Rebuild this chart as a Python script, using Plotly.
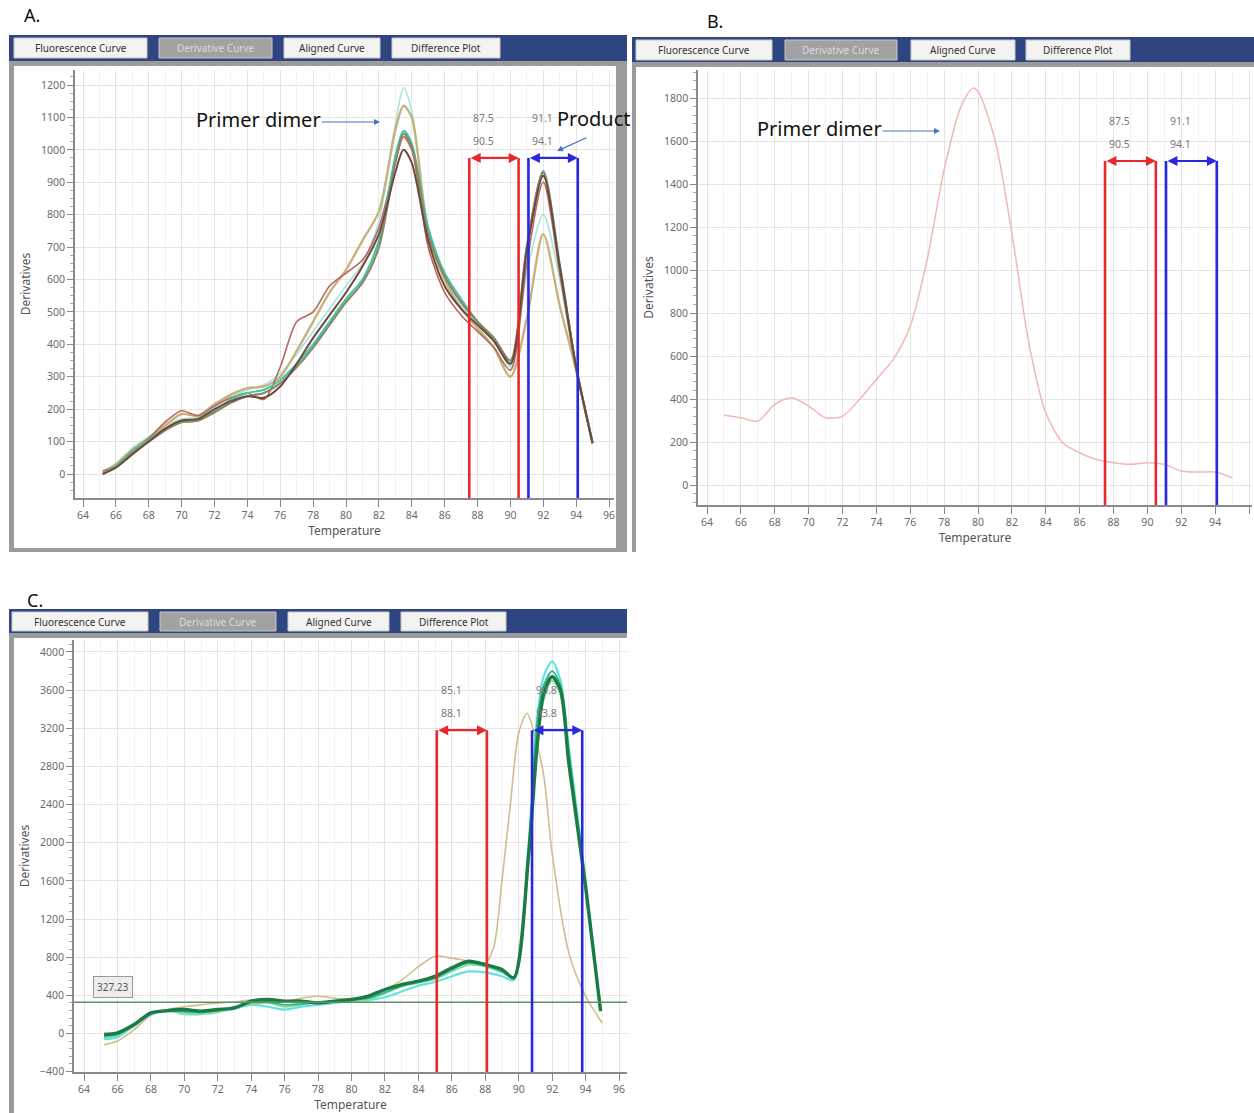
import plotly.graph_objects as go

W, H = 1254, 1113

# ---------------- DATA ----------------
# Panel A: derivative melt curves (6 wells)
temps_A = [65.2, 66, 67, 68, 69, 70, 71, 72, 73, 74, 75, 76, 77, 78, 79, 80, 81, 82,
           83, 83.5, 84, 85, 86, 87, 88, 89, 90, 91, 92, 93, 94, 95]
A_tan = [5, 30, 75, 110, 150, 185, 180, 215, 245, 265, 270, 300, 380, 470, 560, 630, 720, 810,
         1060, 1136, 1100, 740, 600, 510, 450, 390, 300, 480, 740, 520, 320, 95]
A_darkbrown = [0, 20, 60, 100, 140, 165, 170, 200, 225, 240, 235, 270, 340, 420, 490, 560, 640, 740,
               930, 1000, 960, 720, 580, 510, 460, 410, 340, 690, 920, 640, 330, 95]
A_redbrown = [10, 25, 70, 110, 160, 195, 180, 210, 235, 250, 230, 330, 470, 500, 580, 620, 660, 760,
              960, 1040, 1000, 700, 560, 490, 440, 390, 320, 650, 900, 620, 320, 100]
A_teal = [0, 25, 70, 105, 140, 160, 165, 195, 230, 250, 260, 290, 340, 400, 470, 540, 600, 720,
          980, 1059, 1020, 760, 620, 540, 470, 410, 340, 700, 935, 650, 330, 95]
A_lightcyan = [5, 30, 80, 115, 150, 170, 175, 205, 240, 260, 275, 310, 370, 440, 510, 580, 650, 780,
               1080, 1192, 1120, 760, 600, 520, 470, 420, 330, 620, 800, 600, 330, 100]
A_olive = [0, 20, 65, 100, 135, 160, 165, 190, 220, 240, 250, 280, 330, 390, 460, 530, 590, 700,
           960, 1050, 1010, 740, 610, 530, 470, 420, 350, 700, 930, 640, 330, 95]
A_ranges = [87.5, 90.5, 91.1, 94.1]

# Panel B: single derivative curve
temps_B = [65, 66, 67, 68, 69, 70, 71, 72, 73, 74, 75, 76, 77, 78, 79, 79.7, 80, 81, 82, 83,
           84, 85, 86, 87, 88, 89, 90, 91, 92, 93, 94, 95]
B_vals = [324, 313, 297, 375, 406, 367, 313, 320, 398, 491, 584, 739, 1049, 1467, 1761, 1846,
          1831, 1606, 1173, 661, 336, 197, 150, 119, 104, 96, 104, 96, 65, 60, 60, 34]
B_ranges = [87.5, 90.5, 91.1, 94.1]

# Panel C: derivative curves
temps_C = [65.2, 66, 67, 68, 69, 70, 71, 72, 73, 74, 75, 76, 77, 78, 79, 80, 81, 82, 83, 84,
           85, 86, 87, 88, 89, 89.7, 90.6, 91.1, 91.5, 92, 92.5, 93, 94, 94.9]
C_darkgreen = [-10, 7, 94, 216, 240, 251, 234, 251, 269, 339, 356, 339, 339, 321, 339, 356, 391,
               461, 513, 548, 600, 688, 757, 722, 670, 583, 1892, 3008, 3567, 3741, 3602, 2834, 1543, 234]
C_cyan = [-60, -40, 80, 200, 230, 220, 210, 230, 260, 300, 280, 250, 280, 300, 320, 340, 350,
          380, 440, 500, 540, 600, 650, 640, 600, 560, 2000, 3300, 3750, 3900, 3700, 3000, 1600, 250]
C_lightgreen = [-50, -20, 90, 210, 240, 200, 200, 220, 280, 300, 320, 280, 300, 330, 330, 340, 360,
                420, 490, 530, 570, 650, 720, 700, 640, 590, 1800, 3100, 3500, 3700, 3550, 2900, 1500, 230]
C_teal = [-30, -10, 85, 205, 235, 230, 220, 240, 270, 320, 330, 300, 310, 320, 340, 350, 370,
          430, 500, 540, 580, 670, 740, 710, 650, 590, 1950, 3250, 3650, 3800, 3650, 2950, 1550, 240]
temps_C_tan = [65.2, 66, 67, 68, 69, 70, 71, 72, 73, 74, 75, 76, 77, 78, 79, 80, 81, 82, 83, 84,
               85, 86, 87, 88, 88.5, 89, 89.5, 90, 90.5, 91, 91.5, 92, 93, 94, 95]
C_tan = [-120, -80, 40, 190, 250, 280, 300, 320, 330, 350, 330, 330, 370, 390, 370, 360, 380, 460,
         560, 700, 810, 790, 760, 740, 900, 1600, 2400, 3150, 3357, 3100, 2700, 1890, 845, 390, 110]
C_ranges = [85.1, 88.1, 90.8, 93.8]
C_threshold = 327.23

x_ticks = list(range(64, 97, 2))
tab_names = ["Fluorescence Curve", "Derivative Curve", "Aligned Curve", "Difference Plot"]

# ---------------- helpers ----------------
def px(x):
    return x / W


def py(y):
    return 1 - y / H


def lin_range(p_lo, p_hi, v1, p1, v2, p2):
    s = (p2 - p1) / (v2 - v1)
    return [v1 + (p_lo - p1) / s, v1 + (p_hi - p1) / s]


fig = go.Figure()
shapes = []
annots = []

FONT = "Noto Sans"
TICKC = "#6a6a6a"


def rect(x0, y0, x1, y1, fill, line=None, lw=0, layer="below"):
    shapes.append(dict(type="rect", xref="paper", yref="paper", x0=px(x0), x1=px(x1),
                       y0=py(y1), y1=py(y0), fillcolor=fill,
                       line=dict(color=line or fill, width=lw), layer=layer))


def text(x, y, s, font, xanchor="center", yanchor="middle", **kw):
    annots.append(dict(x=px(x), y=py(y), xref="paper", yref="paper", text=s, showarrow=False,
                       xanchor=xanchor, yanchor=yanchor, font=font, **kw))


def panel_frame(x0, y0, x1, y1, bar_y1, white, tabs, tab_y):
    rect(x0, y0, x1, y1, "#9b9b9b")
    rect(x0, y0, x1, bar_y1, "#2f4581")
    rect(white[0], white[1], white[2], white[3], "#ffffff")
    for i, (tx0, tx1) in enumerate(tabs):
        sel = (i == 1)
        rect(tx0, tab_y[0], tx1, tab_y[1], "#a2a2a2" if sel else "#f3f3f1", line="#c8c8c8", lw=1)
        text((tx0 + tx1) / 2, (tab_y[0] + tab_y[1]) / 2, tab_names[i],
             dict(family=FONT, size=10, color="#d9d9d9" if sel else "#333333"))


panel_frame(9, 35, 627, 552, 61, (14, 66, 616, 548),
            [(14, 147), (159, 272), (284, 380), (392, 500)], (38, 58))
panel_frame(632, 37, 1254, 552, 62, (636, 67, 1254, 552),
            [(636, 772), (785, 897), (911, 1015), (1026, 1130)], (40, 60))
panel_frame(9, 609, 627, 1113, 633, (14, 638, 627, 1113),
            [(12, 148), (160, 276), (288, 389), (401, 506)], (612, 631))

# ---------------- axes ----------------
def xaxis_cfg(pl, pr, p64, p96, anchor):
    return dict(domain=[px(pl), px(pr)], range=lin_range(pl, pr, 64, p64, 96, p96),
                tickvals=x_ticks, ticks="outside", ticklen=7, tickcolor="#888",
                showline=True, linecolor="#8a8a8a", linewidth=1.5,
                showgrid=True, gridcolor="#e4e4e4", gridwidth=1,
                minor=dict(dtick=1, showgrid=True, gridcolor="#f2f2f2", ticks=""),
                tickfont=dict(family=FONT, size=10.5, color=TICKC),
                title=dict(text="Temperature", font=dict(family=FONT, size=12, color="#555"), standoff=1),
                zeroline=False, anchor=anchor, fixedrange=True, automargin=False)


def yaxis_cfg(pb, pt, v1, p1, v2, p2, dtick, mdtick, anchor, pb_range=None):
    rng = lin_range(pb_range if pb_range else pb, pt, v1, p1, v2, p2)
    return dict(domain=[py(pb), py(pt)], range=rng,
                dtick=dtick, ticks="outside", ticklen=6, tickcolor="#888",
                showline=True, linecolor="#8a8a8a", linewidth=1.5,
                showgrid=True, gridcolor="#e4e4e4", gridwidth=1,
                minor=dict(dtick=mdtick, ticks="outside", ticklen=3, tickcolor="#aaa", showgrid=False),
                tickfont=dict(family=FONT, size=10.5, color=TICKC),
                title=dict(text="Derivatives", font=dict(family=FONT, size=12, color="#555"), standoff=8),
                zeroline=False, anchor=anchor, fixedrange=True, automargin=False)


layout_axes = dict(
    xaxis=xaxis_cfg(75, 614, 83, 609, "y"),
    yaxis=yaxis_cfg(498, 70, 0, 474, 1200, 85, 100, 25, "x"),
    xaxis2=xaxis_cfg(698, 1252, 707, 1249, "y2"),
    yaxis2=yaxis_cfg(505, 70, 0, 485, 1800, 98, 200, 40, "x2"),
    xaxis3=xaxis_cfg(74, 627, 84, 619, "y3"),
    yaxis3=yaxis_cfg(1072, 640, 0, 1034, 4000, 652, 400, 80, "x3", pb_range=1072.6),
)

# ---------------- traces ----------------
def add_line(x, y, color, width, xa, ya):
    fig.add_trace(go.Scatter(x=x, y=y, mode="lines", line=dict(color=color, width=width, shape="spline",
                                                                smoothing=0.8),
                             xaxis=xa, yaxis=ya, showlegend=False, hoverinfo="skip"))


add_line(temps_A, A_lightcyan, "#a9e4de", 1.6, "x", "y")
add_line(temps_A, A_tan, "#c6b27c", 2.4, "x", "y")
add_line(temps_A, A_redbrown, "#b8675c", 1.6, "x", "y")
add_line(temps_A, A_teal, "#3ec6ae", 2.0, "x", "y")
add_line(temps_A, A_olive, "#8a8762", 2.2, "x", "y")
add_line(temps_A, A_darkbrown, "#6e4a3e", 2.0, "x", "y")

add_line(temps_B, B_vals, "#f2b8b4", 1.5, "x2", "y2")

add_line(temps_C_tan, C_tan, "#d2bd8e", 1.6, "x3", "y3")
add_line(temps_C, C_cyan, "#62e2e0", 2.2, "x3", "y3")
add_line(temps_C, C_lightgreen, "#86dba0", 1.8, "x3", "y3")
add_line(temps_C, C_teal, "#30b58c", 1.8, "x3", "y3")
add_line(temps_C, C_darkgreen, "#1c7a44", 3.4, "x3", "y3")

# threshold line in C
fig.add_trace(go.Scatter(x=[layout_axes["xaxis3"]["range"][0], layout_axes["xaxis3"]["range"][1]],
                         y=[C_threshold, C_threshold], mode="lines",
                         line=dict(color="#5f9064", width=1.5), xaxis="x3", yaxis="y3",
                         showlegend=False, hoverinfo="skip"))
text(113, 987, f"{C_threshold:.2f}", dict(family=FONT, size=10, color="#555"),
     bgcolor="#ededed", bordercolor="#9a9a9a", borderwidth=1, borderpad=3)

# ---------------- melt-range brackets ----------------
def brackets(rng, top, xr, yr, ybottom):
    pairs = [(rng[0], rng[1], "#e8282c"), (rng[2], rng[3], "#2828e0")]
    for a, b, c in pairs:
        for v in (a, b):
            shapes.append(dict(type="line", xref=xr, yref=yr, x0=v, x1=v, y0=ybottom, y1=top,
                               line=dict(color=c, width=2.6), layer="above"))
        annots.append(dict(x=b, y=top, ax=a, ay=top, xref=xr, yref=yr, axref=xr, ayref=yr, text="",
                           showarrow=True, arrowhead=2, arrowside="end+start", arrowsize=0.9,
                           arrowwidth=2.2, arrowcolor=c))
        for s, shift in ((a, 40), (b, 17)):
            annots.append(dict(x=a, y=top, xref=xr, yref=yr, text=f"{s}", showarrow=False,
                               xanchor="left", yanchor="middle", xshift=2, yshift=shift,
                               font=dict(family=FONT, size=10.5, color="#7a7a7a")))


brackets(A_ranges, 975, "x", "y", layout_axes["yaxis"]["range"][0])
brackets(B_ranges, 1507, "x2", "y2", layout_axes["yaxis2"]["range"][0])
brackets(C_ranges, 3180, "x3", "y3", layout_axes["yaxis3"]["range"][0])

# ---------------- labels and arrows ----------------
LBL = dict(family="Noto Sans", size=18, color="#111")
text(22, 15, "A.", LBL, xanchor="left")
text(705, 21, "B.", LBL, xanchor="left")
text(25, 600, "C.", LBL, xanchor="left")

NOTE = dict(family="Noto Sans", size=20, color="#111")
BLUE = "#4472C4"


def arrow(hx, hy, dx, dy):
    annots.append(dict(x=px(hx), y=py(hy), xref="paper", yref="paper", text="", showarrow=True,
                       ax=dx, ay=dy, arrowhead=2, arrowsize=1, arrowwidth=1.2, arrowcolor=BLUE))


text(194, 120, "Primer dimer", NOTE, xanchor="left")
arrow(380, 122, -60, 0)
text(555, 119, "Product", NOTE, xanchor="left")
arrow(557, 151, 31, -14)
text(755, 128, "Primer dimer", NOTE, xanchor="left")
arrow(940, 131, -59, 0)

fig.update_layout(
    width=W, height=H, margin=dict(l=0, r=0, t=0, b=0, autoexpand=False),
    paper_bgcolor="#ffffff", plot_bgcolor="rgba(0,0,0,0)",
    shapes=shapes, annotations=annots, showlegend=False,
    **layout_axes,
)

fig.write_html("out.html", config={"displayModeBar": False},
               post_script="document.body.style.margin='0';document.body.style.padding='0';")
